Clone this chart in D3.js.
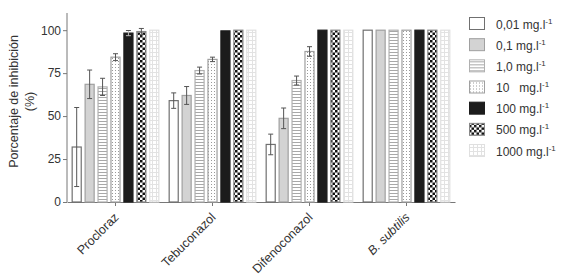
<!DOCTYPE html>
<html>
<head>
<meta charset="utf-8">
<script src="https://cdn.jsdelivr.net/npm/d3@7"></script>
<style>
  body { margin: 0; background: #fff; }
  text { font-family: "Liberation Sans", Arial, sans-serif; fill: #333; }
</style>
</head>
<body>
<div id="container"></div>
<script>
/* CONSTANTS AND GLOBALS */
const width = 564;
const height = 279;
const margin = { top: 13, left: 67, right: 109, bottom: 77 };

/* DATA */
const groups = ["Procloraz", "Tebuconazol", "Difenoconazol", "B. subtilis"];
const doses = ["0,01", "0,1", "1,0", "10  ", "100", "500", "1000"];
const yTicks = [0, 25, 50, 75, 100];

// mean inhibition per group, one array per dose
const mean001 = [32, 59, 33.5, 100];
const mean01 = [68.5, 62, 48.7, 100];
const mean1 = [67, 76.5, 70.7, 100];
const mean10 = [84.3, 83, 87.6, 100];
const mean100 = [98.3, 99.6, 100, 100];
const mean500 = [99.2, 100, 100, 100];
const mean1000 = [100, 100, 100, 100];

// error (+/-), 0 = none drawn
const err001 = [23, 4.5, 6, 0];
const err01 = [8.3, 5.2, 6, 0];
const err1 = [5, 2, 2.6, 0];
const err10 = [2, 1.3, 2.8, 0];
const err100 = [1.5, 0, 0, 0];
const err500 = [1.8, 0, 0, 0];
const err1000 = [0, 0, 0, 0];

const means = [mean001, mean01, mean1, mean10, mean100, mean500, mean1000];
const errs = [err001, err01, err1, err10, err100, err500, err1000];

const data = [];
groups.forEach((g, gi) => {
  doses.forEach((d, di) => {
    data.push({ group: g, dose: di, value: means[di][gi], err: errs[di][gi] });
  });
});

/* SVG */
const svg = d3.select("#container")
  .append("svg")
  .attr("width", width)
  .attr("height", height);

// patterns
const defs = svg.append("defs");

const pLines = defs.append("pattern").attr("id", "p-lines")
  .attr("patternUnits", "userSpaceOnUse").attr("width", 6).attr("height", 3);
pLines.append("rect").attr("width", 6).attr("height", 3).attr("fill", "#fff");
pLines.append("rect").attr("y", 1).attr("width", 6).attr("height", 1).attr("fill", "#a8a8a8");

const pDots = defs.append("pattern").attr("id", "p-dots")
  .attr("patternUnits", "userSpaceOnUse").attr("width", 3).attr("height", 3);
pDots.append("rect").attr("width", 3).attr("height", 3).attr("fill", "#fff");
pDots.append("rect").attr("x", 1).attr("y", 1).attr("width", 1).attr("height", 1).attr("fill", "#9a9a9a");

const pCheck = defs.append("pattern").attr("id", "p-check")
  .attr("patternUnits", "userSpaceOnUse").attr("width", 5).attr("height", 5);
pCheck.append("rect").attr("width", 5).attr("height", 5).attr("fill", "#fff");
pCheck.append("rect").attr("width", 2.5).attr("height", 2.5).attr("fill", "#111");
pCheck.append("rect").attr("x", 2.5).attr("y", 2.5).attr("width", 2.5).attr("height", 2.5).attr("fill", "#111");

const pGrid = defs.append("pattern").attr("id", "p-grid")
  .attr("patternUnits", "userSpaceOnUse").attr("width", 4).attr("height", 4);
pGrid.append("rect").attr("width", 4).attr("height", 4).attr("fill", "#fff");
pGrid.append("rect").attr("width", 4).attr("height", 1).attr("fill", "#e2e2e2");
pGrid.append("rect").attr("width", 1).attr("height", 4).attr("fill", "#e2e2e2");

const fills = ["#fff", "#d3d3d3", "url(#p-lines)", "url(#p-dots)", "#1c1c1c", "url(#p-check)", "url(#p-grid)"];
const strokes = ["#707070", "#a0a0a0", "#b0b0b0", "#a0a0a0", "#1c1c1c", "#888", "#e0e0e0"];

/* SCALES */
const xScale = d3.scaleBand()
  .domain(groups)
  .range([margin.left, width - margin.right])
  .padding(0);

const xInner = d3.scaleBand()
  .domain(d3.range(doses.length))
  .range([0, xScale.bandwidth()])
  .paddingInner(0.3)
  .paddingOuter(0.4);

const yScale = d3.scaleLinear()
  .domain([0, 110])
  .range([height - margin.bottom, margin.top]);

/* AXES */
const yAxis = svg.append("g")
  .attr("transform", `translate(${margin.left},0)`)
  .call(d3.axisLeft(yScale).tickValues(yTicks).tickSize(4).tickPadding(2));
yAxis.selectAll("path, line").attr("stroke", "#777");
yAxis.selectAll("text").style("font-size", "12px").attr("fill", "#333");
yAxis.select(".domain").attr("d", `M0,${yScale(110)}V${yScale(0)}`);

const xAxis = svg.append("g")
  .attr("transform", `translate(0,${yScale(0)})`)
  .call(d3.axisBottom(xScale).tickSize(4).tickSizeOuter(0).tickFormat(""));
xAxis.selectAll("path, line").attr("stroke", "#777");

svg.append("g")
  .selectAll("text")
  .data(groups)
  .join("text")
  .attr("transform", d => `translate(${xScale(d) + xScale.bandwidth() / 2 + 4},${yScale(0) + 16}) rotate(-45)`)
  .attr("text-anchor", "end")
  .style("font-size", "12.5px")
  .style("font-style", d => d === "B. subtilis" ? "italic" : "normal")
  .text(d => d);

// y label
const yLab = svg.append("text")
  .attr("transform", `translate(18,${(yScale(0) + yScale(110)) / 2 - 6}) rotate(-90)`)
  .attr("text-anchor", "middle")
  .style("font-size", "12.5px");
yLab.append("tspan").attr("x", 0).attr("dy", 0).text("Porcentaje de inhibición");
yLab.append("tspan").attr("x", 0).attr("dy", 16).text("(%)");

/* BARS */
const bars = svg.append("g");
bars.selectAll("rect")
  .data(data)
  .join("rect")
  .attr("x", d => xScale(d.group) + xInner(d.dose))
  .attr("width", xInner.bandwidth())
  .attr("y", d => yScale(d.value))
  .attr("height", d => yScale(0) - yScale(d.value))
  .attr("fill", d => fills[d.dose])
  .attr("stroke", d => strokes[d.dose])
  .attr("stroke-width", 1.2);

// error bars
const errData = data.filter(d => d.err > 0);
const eb = svg.append("g").attr("stroke", "#555").attr("stroke-width", 1);
const cx = d => xScale(d.group) + xInner(d.dose) + xInner.bandwidth() / 2;
eb.selectAll("line.v").data(errData).join("line").attr("class", "v")
  .attr("x1", cx).attr("x2", cx)
  .attr("y1", d => yScale(d.value + d.err)).attr("y2", d => yScale(d.value - d.err))
  .attr("stroke", d => d.dose === 4 ? "#bbb" : "#555");
eb.selectAll("line.t").data(errData).join("line").attr("class", "t")
  .attr("x1", d => cx(d) - 2.5).attr("x2", d => cx(d) + 2.5)
  .attr("y1", d => yScale(d.value + d.err)).attr("y2", d => yScale(d.value + d.err));
eb.selectAll("line.b").data(errData).join("line").attr("class", "b")
  .attr("x1", d => cx(d) - 2.5).attr("x2", d => cx(d) + 2.5)
  .attr("y1", d => yScale(d.value - d.err)).attr("y2", d => yScale(d.value - d.err))
  .attr("stroke", d => d.dose === 4 ? "#bbb" : "#555");

/* LEGEND */
const legY = d3.scalePoint()
  .domain(d3.range(doses.length))
  .range([24, 151]);

const leg = svg.append("g")
  .selectAll("g")
  .data(doses)
  .join("g")
  .attr("transform", (d, i) => `translate(469,${legY(i)})`);

leg.append("rect")
  .attr("x", 0.5).attr("y", -6.5)
  .attr("width", 15).attr("height", 12)
  .attr("fill", (d, i) => fills[i])
  .attr("stroke", (d, i) => strokes[i])
  .attr("stroke-width", 1);

const lt = leg.append("text")
  .attr("x", 27).attr("y", 4.5)
  .style("font-size", "12px")
  .style("white-space", "pre")
  .attr("xml:space", "preserve");
lt.append("tspan").text(d => d + " mg.l");
lt.append("tspan").attr("dy", -5).style("font-size", "8px").text("-1");
</script>
</body>
</html>
